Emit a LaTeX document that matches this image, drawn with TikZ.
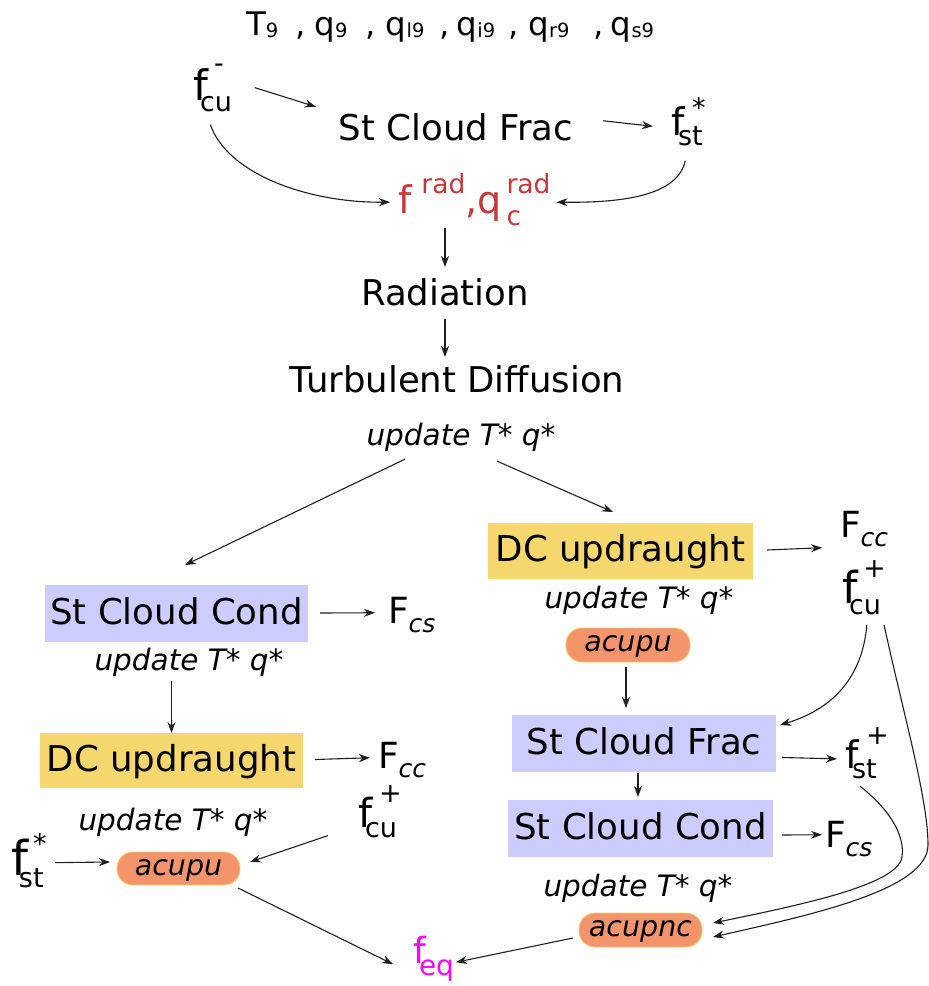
\documentclass[tikz,border=0pt]{standalone}
\usepackage{fontspec}
\setmainfont{DejaVu Sans}
\usetikzlibrary{arrows.meta,calc}

\definecolor{lav}{RGB}{204,204,255}
\definecolor{yel}{RGB}{245,215,110}
\definecolor{orng}{RGB}{244,148,106}
\definecolor{pillrim}{RGB}{246,200,110}
\definecolor{radred}{RGB}{200,55,55}
\definecolor{eqmag}{RGB}{255,0,255}
\definecolor{ink}{RGB}{30,30,30}

% f with a subscript and a superscript: size of f, subscript, superscript, raise of superscript
\newcommand\fsubsup[4]{{\fontsize{#1}{#1}\selectfont\rlap{f}\kern7pt\rlap{\raisebox{-0.27em}{\fontsize{27}{27}\selectfont #2}}\kern14pt\raisebox{#4}{\fontsize{27}{27}\selectfont #3}}}
% capital F with an italic subscript
\newcommand\Fsub[1]{F\raisebox{-0.26em}{\fontsize{25}{25}\selectfont\itshape #1}}
% small index in the list of prognostic variables
\newcommand\tsub[1]{\raisebox{-2pt}{\fontsize{19.5}{19.5}\selectfont #1}}

\begin{document}
\begin{tikzpicture}[x=1pt,y=-1pt,
  every node/.style={inner sep=0pt,outer sep=0pt,text=black},
  lbl/.style={anchor=base,font=\fontsize{35.5}{40}\selectfont},
  sym/.style={anchor=base west,font=\fontsize{36}{40}\selectfont},
  upd/.style={anchor=base,font=\itshape\fontsize{29.5}{34}\selectfont},
  boxbase/.style={minimum height=56pt,text height=24pt,text depth=3pt,font=\fontsize{35.6}{40}\selectfont},
  condbox/.style={boxbase,fill=lav},
  updbox/.style={boxbase,fill=yel},
  pill/.style={fill=orng,draw=pillrim,line width=0.9pt,rounded corners=16pt,minimum width=123pt,minimum height=33pt,text height=15pt,text depth=2pt,font=\itshape\fontsize{28.5}{32}\selectfont},
  arr/.style={draw=ink,line width=1.1pt,-{Stealth[length=11pt,width=8pt]}}]
\useasboundingbox (0,0) rectangle (929,986);

% ---- top: inputs, cloud fraction, radiation, diffusion
\node[anchor=base west,font=\fontsize{32.5}{36}\selectfont] (vars) at (246,35)
  {T\tsub{9}\hspace{17pt},\hspace{9pt}q\tsub{9}\hspace{18pt},\hspace{10pt}q\tsub{l9}\hspace{15pt},\hspace{7pt}q\tsub{i9}\hspace{13pt},\hspace{10pt}q\tsub{r9}\hspace{24pt},\hspace{7pt}q\tsub{s9}};
\node[sym] (fcuA) at (193,100) {\fsubsup{42}{cu}{-}{28pt}};
\node[lbl] (fracA) at (456,140) {St Cloud Frac};
\node[sym] (fstA) at (671,135) {\fsubsup{38}{st}{*}{18pt}};
\node[anchor=base west,text=radred] (frad) at (398,213)
  {\fontsize{38}{40}\selectfont f\kern10pt\raisebox{20pt}{\fontsize{26.5}{27}\selectfont rad},q\kern5pt\rlap{\raisebox{-12pt}{\fontsize{26.5}{27}\selectfont c}}\raisebox{20pt}{\fontsize{26.5}{27}\selectfont rad}};
\node[lbl] (rad) at (445,305) {Radiation};
\node[lbl] (turb) at (457,392) {Turbulent Diffusion};
\node[upd] (updA) at (461,445) {update T* q*};

% ---- left branch
\node[condbox,minimum width=263pt,minimum height=57pt] (condL) at (176.5,613.5) {St Cloud Cond};
\node[sym] (FcsL) at (388,623) {\Fsub{cs}};
\node[upd] (updB) at (189,670) {update T* q*};
\node[updbox,minimum width=263pt,minimum height=55pt] (dcL) at (171.5,760.5) {DC updraught};
\node[sym] (FccL) at (378,768) {\Fsub{cc}};
\node[sym] (fcuL) at (358,827) {\fsubsup{40}{cu}{+}{25pt}};
\node[upd] (updC) at (173,830) {update T* q*};
\node[sym] (fstL) at (12,875) {\fsubsup{48}{st}{*}{22pt}};
\node[pill] (acuL) at (178.5,868.5) {acupu};
\node[anchor=base west,text=eqmag] (feq) at (413,963)
  {\fontsize{36}{40}\selectfont\rlap{f}\kern6pt\raisebox{-12pt}{\fontsize{28}{28}\selectfont eq}};

% ---- right branch
\node[updbox,minimum width=265pt] (dcR) at (620.5,551) {DC updraught};
\node[sym] (FccR) at (840,537) {\Fsub{cc}};
\node[sym] (fcuR) at (842,603) {\fsubsup{44}{cu}{+}{26pt}};
\node[upd] (updD) at (639,608) {update T* q*};
\node[pill,minimum width=124pt,minimum height=34pt] (acuR) at (628,645) {acupu};
\node[condbox,minimum width=264pt,minimum height=57pt] (fracR) at (644,743.5) {St Cloud Frac};
\node[sym] (fstR) at (845,768) {\fsubsup{38}{st}{+}{24pt}};
\node[condbox,minimum width=265pt,minimum height=57pt] (condR) at (640.5,828.5) {St Cloud Cond};
\node[sym] (FcsR) at (825,847) {\Fsub{cs}};
\node[upd] (updE) at (638,896) {update T* q*};
\node[pill,minimum height=34pt] (acuNC) at (640.5,930) {acupnc};

% ---- connectors, top
\draw[arr] ($(fcuA.east)+(31,0)$) -- ($(fracA.west)+(-23,-20)$);
\draw[arr] ($(fracA.east)+(30,-6)$) -- ($(fstA.west)+(-18,5)$);
\draw[arr] ($(fcuA.south)+(2,13)$) .. controls (228,175) and (310,203) .. ($(frad.west)+(-8,3)$);
\draw[arr] ($(fstA.south)+(-3,15)$) .. controls (678,195) and (625,203) .. ($(frad.east)+(6,3)$);
\draw[arr] ($(frad.south -| rad.north)+(0,3)$) -- ($(rad.north)+(0,-11)$);
\draw[arr] ($(rad.south)+(0,13)$) -- ($(turb.north -| rad.south)+(0,-8)$);
\draw[arr] ($(updA.south)+(-56,8)$) -- ($(condL.north)+(8.5,-20)$);
\draw[arr] ($(updA.south)+(36,10)$) -- ($(dcR.north)+(-7.5,-11)$);

% ---- connectors, left
\draw[arr] ($(condL.east)+(12,-0.5)$) -- ($(FcsL.west)+(-13,-2)$);
\draw[arr] ($(updB.south -| dcL.north)+(0,5)$) -- (dcL.north);
\draw[arr] ($(dcL.east)+(12,-1)$) -- ($(FccL.west)+(-8,-2)$);
\draw[arr] ($(fcuL.south west)+(-30,-2.6)$) -- ($(acuL.east)+(10,-6.5)$);
\draw[arr] ($(fstL.east)+(8.5,2)$) -- ($(acuL.west)+(-7,-6.5)$);
\draw[arr] ($(acuL.south east)+(-2,3)$) -- ($(feq.west)+(-20,6)$);
\draw[arr] ($(acuNC.west)+(-6,8)$) -- ($(feq.east)+(2,4)$);

% ---- connectors, right
\draw[arr] ($(dcR.east)+(14,-1)$) -- ($(FccR.west)+(-18,19)$);
\draw[arr] ($(acuR.south)+(-2,5)$) -- ($(acuR.south |- fracR.north)+(-2,-7)$);
\draw[arr] ($(fcuR.south)+(3,10)$) .. controls (862,680) and (830,710) .. ($(fracR.north east)+(4,10)$);
\draw[arr] ($(fracR.east)+(6,14)$) -- ($(fstR.west)+(-8,6)$);
\draw[arr] ($(fracR.south)+(-6,1)$) -- ($(condR.north)+(-2.5,-3)$);
\draw[arr] ($(condR.east)+(9,6.5)$) -- ($(FcsR.west)+(-3,-4)$);
\draw[arr] ($(fstR.south)+(-6.8,7.5)$) .. controls (890,810) and (905,835) .. (902,857)
  .. controls (898,885) and (800,905) .. ($(acuNC.east)+(11,-7)$);
\draw[arr] ($(fcuR.south east)+(-1.6,9.7)$) .. controls (905,720) and (928,800) .. (928,845)
  .. controls (928,890) and (810,915) .. ($(acuNC.east)+(11,7)$);
\end{tikzpicture}
\end{document}
